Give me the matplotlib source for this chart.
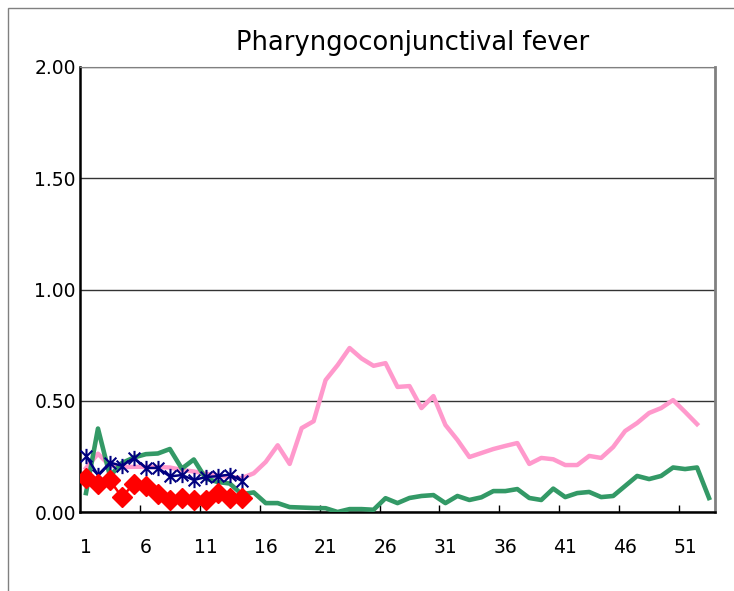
import matplotlib.pyplot as plt
from matplotlib.patches import Rectangle
from matplotlib.path import Path

# weekly values
weeks = list(range(1, 54))

pink = [0.197, 0.262, 0.208, 0.202, 0.203, 0.203, 0.202, 0.200, 0.189, 0.182,
        0.172, 0.162, 0.158, 0.152, 0.174, 0.225, 0.300, 0.216, 0.377, 0.408,
        0.593, 0.660, 0.737, 0.690, 0.657, 0.669, 0.562, 0.566, 0.467, 0.521,
        0.391, 0.324, 0.247, 0.265, 0.283, 0.297, 0.310, 0.216, 0.243, 0.237,
        0.211, 0.211, 0.252, 0.243, 0.292, 0.364, 0.400, 0.445, 0.467, 0.503,
        0.450, 0.395]

green = [0.085, 0.375, 0.162, 0.220, 0.245, 0.260, 0.263, 0.283, 0.195, 0.236,
         0.150, 0.135, 0.128, 0.080, 0.088, 0.040, 0.040, 0.022, 0.020, 0.018,
         0.017, 0.000, 0.013, 0.013, 0.010, 0.062, 0.040, 0.063, 0.072, 0.076,
         0.040, 0.072, 0.054, 0.066, 0.094, 0.094, 0.103, 0.063, 0.054, 0.105,
         0.067, 0.085, 0.090, 0.067, 0.072, 0.117, 0.162, 0.148, 0.162, 0.200,
         0.193, 0.200, 0.063]

blue = [0.253, 0.166, 0.222, 0.208, 0.243, 0.198, 0.198, 0.160, 0.166, 0.144,
        0.157, 0.161, 0.168, 0.140]

red = [0.155, 0.126, 0.142, 0.067, 0.128, 0.119, 0.081, 0.056, 0.065, 0.054,
       0.056, 0.087, 0.063, 0.063]

xlabels = [str(w) for w in range(1, 53, 5)]

# excel style star: an X with a vertical bar through it
star = Path([(-1, -1), (1, 1), (-1, 1), (1, -1), (0, -1.3), (0, 1.3)],
            [Path.MOVETO, Path.LINETO] * 3)

fig = plt.figure(figsize=(7.34, 5.91), dpi=100)
ax = fig.add_axes([80/734, 1 - 512/591, 635/734, 445/591])

ax.plot(weeks[:len(pink)], pink, color='#FF99CC', lw=3.2, zorder=2)
ax.plot(weeks, green, color='#339966', lw=3.3, zorder=3)
ax.plot(weeks[:len(blue)], blue, color='#000080', lw=1.8, marker=star,
        ms=11, mew=1.5, zorder=4)
ax.plot(weeks[:len(red)], red, color='#FF0000', lw=1.8, marker='D',
        ms=10, zorder=5)

ax.set_xlim(0.5, 53.5)
ax.set_ylim(0, 2.0)
ax.set_yticks([0, 0.5, 1.0, 1.5, 2.0])
ax.set_yticklabels(['0.00', '0.50', '1.00', '1.50', '2.00'], fontsize=13.5)
ax.set_xticks(list(range(1, 53, 5)))
ax.set_xticklabels(xlabels, fontsize=13.5)
ax.set_xticks([x + 0.5 for x in range(5, 51, 5)], minor=True)
ax.tick_params(axis='x', which='major', length=0, pad=19)
ax.tick_params(axis='x', which='minor', direction='in', length=5, width=1)
ax.tick_params(axis='y', length=0, pad=3)
ax.yaxis.grid(True, color='#333333', lw=1)
ax.set_axisbelow(True)

ax.spines['left'].set_linewidth(1.8)
ax.spines['bottom'].set_linewidth(1.8)
ax.spines['top'].set_color('#808080')
ax.spines['right'].set_color('#808080')
ax.spines['right'].set_linewidth(2)

fig.text(413/734, 1 - 43/591, 'Pharyngoconjunctival fever', ha='center',
         va='center', fontsize=18.5)

fig.patches.append(Rectangle((8/734, -0.1), 1.2, 1 - 8/591 + 0.1,
                             transform=fig.transFigure, fill=False,
                             edgecolor='#808080', lw=1))

fig.savefig('out.png', dpi=100)
